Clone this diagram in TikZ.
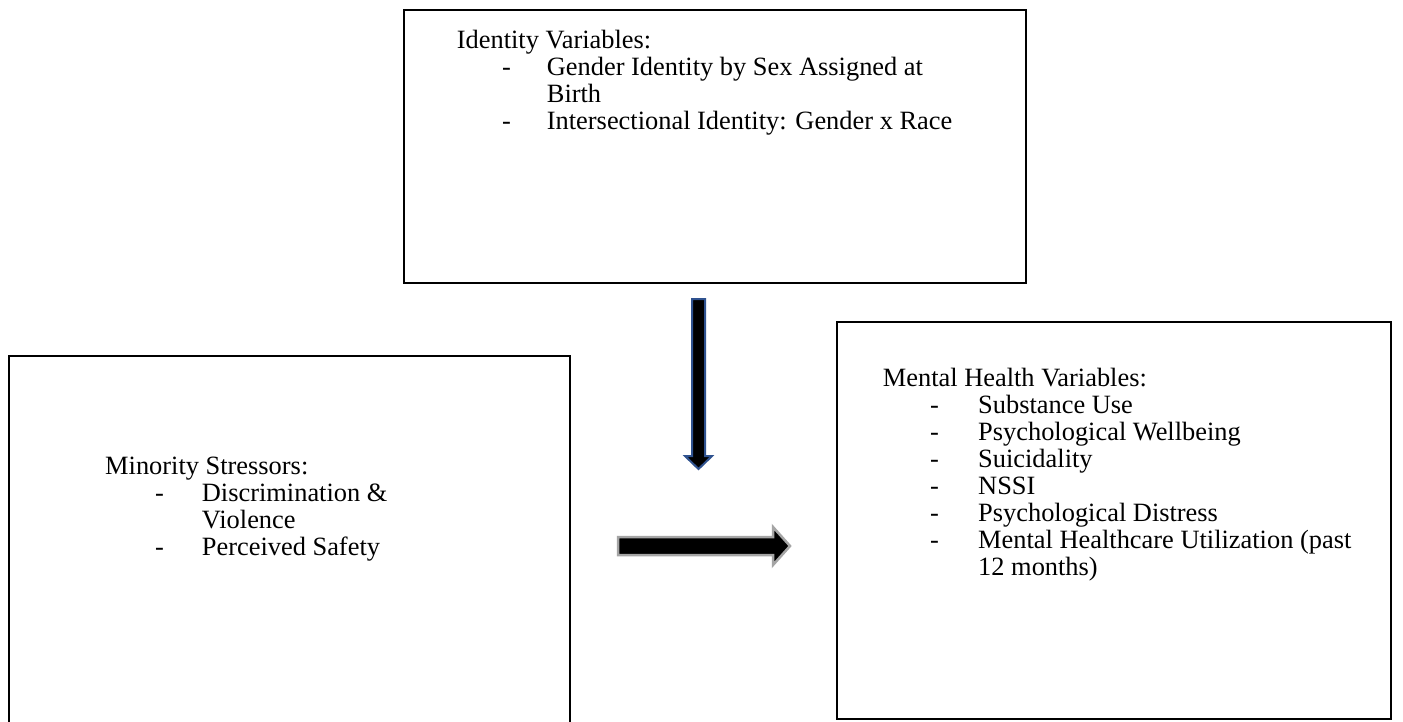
\documentclass[tikz,border=0pt]{standalone}
\usepackage{fontspec}
\setmainfont{Liberation Serif}
\definecolor{arrowblue}{RGB}{47,82,143}
\definecolor{arrowgray}{RGB}{165,165,165}
\begin{document}
\begin{tikzpicture}[x=1pt,y=-1pt,
  box/.style={draw=black,line width=2pt,anchor=north west,inner sep=0pt},
  txt/.style={anchor=base west,inner sep=0pt,font=\fontsize{26.4}{30}\selectfont},
  blockarrowblue/.style={fill=black,draw=arrowblue,line width=2pt,line join=miter},
  blockarrowgray/.style={fill=black,draw=arrowgray,line width=2.5pt,line join=miter}]
\useasboundingbox (0,0) rectangle (1403,722);
\fill[white] (0,0) rectangle (1403,722);

% boxes
\node[box,minimum width=622pt,minimum height=273pt] (idbox) at (403,9) {};
\node[box,minimum width=561pt,minimum height=400pt] (minbox) at (8,355) {};
\node[box,minimum width=554pt,minimum height=397pt] (mhbox) at (836,321) {};

% identity text
\node[txt] (idt) at (456.7,48.5) {Identity Variables:};
\node[txt] (idd1) at (502,75.5) {-};
\node[txt] (idi1) at (546.7,75.5) {Gender Identity by Sex Assigned at};
\node[txt] (idi1b) at (546.7,102.5) {Birth};
\node[txt] (idd2) at (502,129.5) {-};
\node[txt] (idi2) at (546.7,129.5) {Intersectional Identity: Gender x Race};

% minority text
\node[txt] (mst) at (105,474.5) {Minority Stressors:};
\node[txt] (msd1) at (155,501.5) {-};
\node[txt] (msi1) at (201.7,501.5) {Discrimination \&};
\node[txt] (msi1b) at (201.7,528.5) {Violence};
\node[txt] (msd2) at (155,555.5) {-};
\node[txt] (msi2) at (201.7,555.5) {Perceived Safety};

% mental health text
\node[txt] (mht) at (882.7,386.5) {Mental Health Variables:};
\foreach \i/\t in {1/Substance Use,2/Psychological Wellbeing,3/Suicidality,4/NSSI,5/Psychological Distress,6/Mental Healthcare Utilization (past}{
  \node[txt] (mhd\i) at (930,386.5+27*\i) {-};
  \node[txt] (mhi\i) at (978,386.5+27*\i) {\t};
}
\node[txt] (mhi6b) at (978,575.5) {12 months)};

% block arrows
\coordinate (vtop) at (698.5,299);
\coordinate (vtip) at (698.5,469);
\draw[blockarrowblue] (692,299) -- (705,299) -- (705,456) -- (712,456) -- (vtip) -- (685,456) -- (692,456) -- cycle;
\coordinate (hstart) at (618,546);
\coordinate (htip) at (790,546);
\draw[blockarrowgray] (618,537) -- (773,537) -- (773,527) -- (htip) -- (773,565) -- (773,555) -- (618,555) -- cycle;
\end{tikzpicture}
\end{document}
